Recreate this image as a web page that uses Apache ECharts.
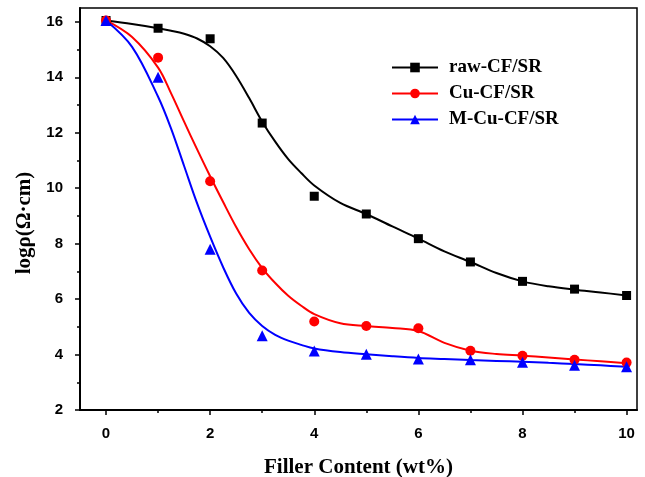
<!DOCTYPE html>
<html><head><meta charset="utf-8">
<script src="https://cdn.jsdelivr.net/npm/echarts@6/dist/echarts.min.js"></script>
<style>html,body{margin:0;padding:0;background:#fff}#c{width:645px;height:477px}</style>
</head><body><div id="c"></div>
<script>
const seriesNames = ['raw-CF/SR', 'Cu-CF/SR', 'M-Cu-CF/SR'];
const xMarkers = [0, 1, 2, 3, 4, 5, 6, 7, 8, 9, 10];
const rawValues = [16.05, 15.77, 15.39, 12.35, 9.71, 9.07, 8.18, 7.34, 6.64, 6.36, 6.13];
const cuValues  = [16.05, 14.71, 10.25, 7.03, 5.19, 5.03, 4.95, 4.14, 3.96, 3.81, 3.71];
const mcuValues = [16.05, 14.0, 7.8, 4.68, 4.13, 4.01, 3.84, 3.81, 3.72, 3.61, 3.56];
const xFit   = [0, 0.5, 1, 1.25, 1.5, 1.75, 2, 2.25, 2.5, 2.75, 3, 3.25, 3.5, 3.75, 4, 4.5, 5, 5.5, 6, 6.5, 7, 7.5, 8, 8.5, 9, 9.5, 10];
const rawFit = [16.05, 15.92, 15.77, 15.68, 15.57, 15.4, 15.12, 14.7, 14.05, 13.25, 12.4, 11.68, 11.05, 10.55, 10.1, 9.47, 9.07, 8.62, 8.18, 7.72, 7.34, 6.94, 6.64, 6.46, 6.34, 6.24, 6.13];
const cuFit  = [16.05, 15.45, 14.35, 13.42, 12.4, 11.4, 10.43, 9.5, 8.6, 7.8, 7.12, 6.58, 6.12, 5.76, 5.46, 5.13, 5.03, 4.96, 4.85, 4.42, 4.14, 4.02, 3.96, 3.89, 3.82, 3.76, 3.69];
const mcuFit = [16.05, 15.1, 13.3, 12.15, 10.8, 9.45, 8.25, 7.15, 6.2, 5.5, 5.03, 4.71, 4.5, 4.35, 4.22, 4.09, 4.01, 3.94, 3.88, 3.84, 3.80, 3.77, 3.74, 3.70, 3.66, 3.61, 3.56];
const xTickLabels = [0, 2, 4, 6, 8, 10];
const xMinorTicks = [1, 3, 5, 7, 9];
const yTickLabels = [2, 4, 6, 8, 10, 12, 14, 16];
const yMinorTicks = [3, 5, 7, 9, 11, 13, 15];

const colors = ['#000000', '#ff0000', '#0000ff'];
const symbols = ['rect', 'circle', 'triangle'];
const symbolSizes = [9, 10, 11];
const markerSets = [rawValues, cuValues, mcuValues];
const fitSets = [rawFit, cuFit, mcuFit];

const serif = '"Liberation Serif", "Times New Roman", serif';
const sans = '"Liberation Sans", Arial, sans-serif';

const series = [];
fitSets.forEach((fit, i) => {
  series.push({
    name: seriesNames[i], type: 'line', xAxisIndex: 0, yAxisIndex: 0,
    data: xFit.map((x, k) => [x, fit[k]]),
    smooth: 0.35, symbol: symbols[i], showSymbol: false,
    lineStyle: { color: colors[i], width: 2 }, itemStyle: { color: colors[i] },
    z: 2, silent: true
  });
});
markerSets.forEach((vals, i) => {
  series.push({
    name: seriesNames[i] + ' points', type: 'scatter', xAxisIndex: 0, yAxisIndex: 0,
    data: xMarkers.map((x, k) => [x, vals[k]]),
    symbol: symbols[i], symbolSize: symbolSizes[i],
    itemStyle: { color: colors[i], opacity: 1 }, z: 3, silent: true
  });
});

const chart = echarts.init(document.getElementById('c'), null, { renderer: 'canvas' });
chart.setOption({
  animation: false,
  backgroundColor: '#ffffff',
  grid: { left: 80, right: 8, top: 8, bottom: 67, show: true, borderColor: '#000', borderWidth: 1.5, containLabel: false, outerBoundsMode: 'none' },
  legend: {
    data: seriesNames, orient: 'vertical', left: 391, top: 58, padding: 0,
    itemWidth: 46, itemHeight: 12, itemGap: 7, selectedMode: false,
    textStyle: { fontFamily: serif, fontWeight: 'bold', fontSize: 19, color: '#000', padding: [0, 0, 0, 6] }
  },
  xAxis: [
    {
      type: 'value', min: -0.5, max: 10.2, position: 'bottom',
      axisLine: { show: true, onZero: false, lineStyle: { color: '#000', width: 2 } },
      axisTick: { show: true, inside: false, length: 5, customValues: xTickLabels, lineStyle: { color: '#000', width: 1.5 } },
      axisLabel: { customValues: xTickLabels, margin: 16, color: '#000', fontFamily: sans, fontWeight: 'bold', fontSize: 15 },
      splitLine: { show: false },
      name: 'Filler Content (wt%)', nameLocation: 'middle', nameGap: 47,
      nameTextStyle: { fontFamily: serif, fontWeight: 'bold', fontSize: 21, color: '#000' }
    },
    {
      type: 'value', min: -0.5, max: 10.2, position: 'bottom',
      axisLine: { show: false, onZero: false },
      axisTick: { show: true, inside: false, length: 3, customValues: xMinorTicks, lineStyle: { color: '#000', width: 1.5 } },
      axisLabel: { show: false }, splitLine: { show: false }
    }
  ],
  yAxis: [
    {
      type: 'value', min: 2, max: 16.5, position: 'left',
      axisLine: { show: true, onZero: false, lineStyle: { color: '#000', width: 2 } },
      axisTick: { show: true, inside: false, length: 5, customValues: yTickLabels, lineStyle: { color: '#000', width: 1.5 } },
      axisLabel: { customValues: yTickLabels, margin: 17, color: '#000', fontFamily: sans, fontWeight: 'bold', fontSize: 15 },
      splitLine: { show: false },
      name: 'logρ(Ω·cm)', nameLocation: 'middle', nameGap: 42, nameRotate: 90,
      nameTextStyle: { fontFamily: serif, fontWeight: 'bold', fontSize: 21, color: '#000', padding: [0, 28, 0, 0] }
    },
    {
      type: 'value', min: 2, max: 16.5, position: 'left',
      axisLine: { show: false, onZero: false },
      axisTick: { show: true, inside: false, length: 3, customValues: yMinorTicks, lineStyle: { color: '#000', width: 1.5 } },
      axisLabel: { show: false }, splitLine: { show: false }
    }
  ],
  series: series
});
</script>
</body></html>
